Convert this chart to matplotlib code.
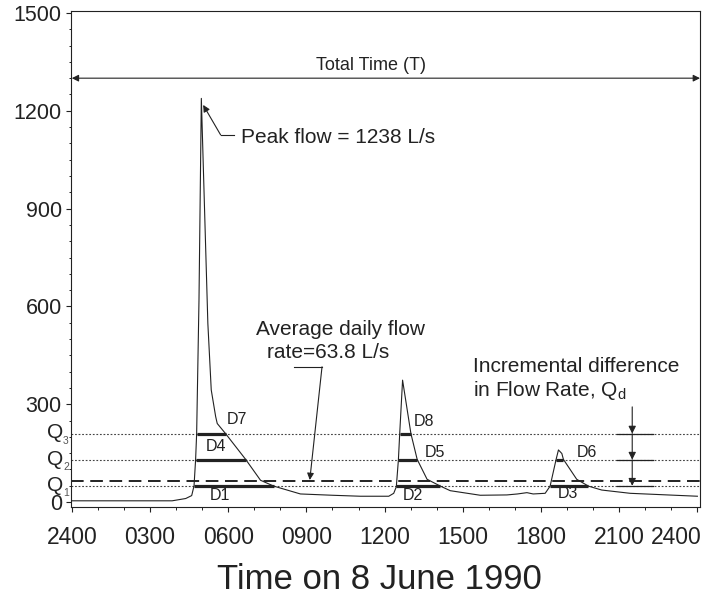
import matplotlib
matplotlib.use("Agg")
import matplotlib.pyplot as plt
import matplotlib.transforms as mtransforms
from matplotlib.ticker import MultipleLocator

plt.rcParams["font.family"] = ["Liberation Sans", "DejaVu Sans"]
plt.rcParams["mathtext.fontset"] = "custom"
plt.rcParams["mathtext.rm"] = "Liberation Sans"

# hydrograph (hours after midnight, flow in L/s)
hours = [0.0, 1.0, 2.0, 3.0, 3.85, 4.37, 4.6, 4.69, 4.75, 4.79, 4.88, 4.97,
         5.22, 5.35, 5.52, 5.58, 5.9, 6.67, 7.24, 7.75, 8.77, 10.0,
         11.07, 12.16, 12.35, 12.45, 12.53, 12.58, 12.69, 13.01, 13.25,
         13.63, 14.14, 14.52, 15.67, 16.69, 17.1, 17.46, 17.7, 18.16, 18.35,
         18.58, 18.67, 18.8, 18.86, 19.37, 19.82, 20.33, 21.42, 24.0]
flow = [4, 4, 4, 4, 4, 11, 20, 50, 130, 210, 620, 1238,
        548, 344, 262, 241, 210, 131, 67, 49, 25, 21,
        18, 18, 27, 47, 130, 210, 374, 210, 131,
        70, 49, 35, 21, 22, 25, 29, 25, 27, 49,
        131, 160, 149, 131, 70, 49, 37, 27, 18]

avg_flow = 63.8
peak_flow = 1238
q_levels = [50, 130, 210]
q_names = ["1", "2", "3"]

# durations above each threshold
dur_level = [50, 50, 50, 130, 130, 130, 210, 210]
dur_start = [4.69, 12.45, 18.35, 4.75, 12.53, 18.58, 4.79, 12.58]
dur_end = [7.75, 14.14, 19.82, 6.67, 13.25, 18.86, 5.9, 13.01]
dur_names = ["D1", "D2", "D3", "D4", "D5", "D6", "D7", "D8"]
dur_label_x = [5.68, 13.09, 19.05, 5.52, 13.95, 19.78, 6.32, 13.52]
dur_label_y = [21, 21, 25, 172, 151, 151, 254, 246]

x_ticks = [0, 3, 6, 9, 12, 15, 18, 21, 24]
x_tick_labels = ["2400", "0300", "0600", "0900", "1200", "1500", "1800",
                 "2100", "2400"]
y_ticks = [0, 300, 600, 900, 1200, 1500]

INK = "#222222"

fig = plt.figure(figsize=(7.14, 5.96), dpi=100)
ax = fig.add_axes([71 / 714, 1 - 507 / 596, 629 / 714, 496 / 596])

# reference lines
for q in q_levels:
    ax.axhline(q, color="#444444", lw=0.8, ls=(0, (1.6, 1.6)), zorder=1)
ax.axhline(avg_flow, color=INK, lw=1.4, ls=(0, (6.5, 3.4)), zorder=1)

ax.plot(hours, flow, color=INK, lw=0.8, zorder=3)

for lev, x0, x1 in zip(dur_level, dur_start, dur_end):
    ax.plot([x0, x1], [lev, lev], color=INK, lw=2.3, solid_capstyle="butt",
            zorder=4)
for name, lx, ly in zip(dur_names, dur_label_x, dur_label_y):
    ax.text(lx, ly, name, fontsize=11.5, color=INK, ha="center", va="center")

ax.set_xlim(-0.03, 24.1)
ax.set_ylim(-15, 1506)
ax.set_xticks(x_ticks)
ax.set_xticklabels(x_tick_labels)
ax.set_yticks(y_ticks)
ax.xaxis.set_minor_locator(MultipleLocator(1))
ax.yaxis.set_minor_locator(MultipleLocator(50))
ax.tick_params(axis="x", which="major", length=3.6, width=0.8, pad=10,
               labelsize=16.5, colors=INK)
ax.tick_params(axis="y", which="major", length=3.6, width=0.8, pad=3,
               labelsize=15.5, colors=INK)
ax.tick_params(which="minor", length=1.8, width=0.7, colors=INK)
for sp in ax.spines.values():
    sp.set_color(INK)
    sp.set_linewidth(0.8)

# last hour label is pulled inside the figure edge
last = ax.get_xticklabels()[-1]
last.set_horizontalalignment("right")
last.set_transform(last.get_transform() + mtransforms.ScaledTranslation(
    4.5 / 100, 0, fig.dpi_scale_trans))

# Q labels beside the axis
for q, sub in zip(q_levels, q_names):
    ax.annotate("Q", xy=(0, q), xycoords=("axes fraction", "data"),
                xytext=(-5.5, 0.5), textcoords="offset points", ha="right",
                va="center", fontsize=15, color=INK)
    ax.annotate(sub, xy=(0, q), xycoords=("axes fraction", "data"),
                xytext=(-5.8, -5), textcoords="offset points", ha="left",
                va="center", fontsize=7.5, color="#555555")

arrow_kw = dict(arrowstyle="-|>", color=INK, lw=0.8, mutation_scale=10,
                shrinkA=0, shrinkB=0)

# total time arrow
ax.annotate("", xy=(0, 1300), xytext=(24.1, 1300),
            arrowprops=dict(arrow_kw, arrowstyle="<|-|>"))
ax.text(11.46, 1340, "Total Time (T)", fontsize=13, color=INK,
        ha="center", va="center")

# peak flow callout
ax.plot([6.22, 5.71], [1126, 1126], color=INK, lw=0.8)
ax.annotate("", xy=(5.04, 1218), xytext=(5.71, 1126), arrowprops=arrow_kw)
ax.text(6.5, 1102, f"Peak flow = {peak_flow} L/s", fontsize=15,
        color=INK, ha="left", va="baseline")

# average flow callout
ax.text(7.05, 513, "Average daily flow", fontsize=15, color=INK,
        ha="left", va="baseline")
ax.text(7.5, 441, f"rate={avg_flow} L/s", fontsize=15, color=INK,
        ha="left", va="baseline")
ax.plot([8.52, 9.6], [415, 415], color=INK, lw=0.8)
ax.annotate("", xy=(9.13, avg_flow + 4), xytext=(9.6, 415),
            arrowprops=arrow_kw)

# incremental difference marker
ax.text(15.39, 400, "Incremental difference", fontsize=15, color=INK,
        ha="left", va="baseline")
ax.text(15.39, 326, r"in Flow Rate, Q$_\mathregular{d}$", fontsize=15,
        color=INK, ha="left", va="baseline")
for q in q_levels:
    ax.plot([20.9, 22.3], [q, q], color=INK, lw=0.9, zorder=2)
marks = [292] + q_levels[::-1]
for top, bottom in zip(marks[:-1], marks[1:]):
    ax.annotate("", xy=(21.5, bottom), xytext=(21.5, top),
                arrowprops=dict(arrow_kw, mutation_scale=11))

fig.text(379.7 / 714, 1 - 589 / 596, "Time on 8 June 1990", fontsize=25,
         color=INK, ha="center", va="baseline")

fig.savefig("out.png", dpi=100)
